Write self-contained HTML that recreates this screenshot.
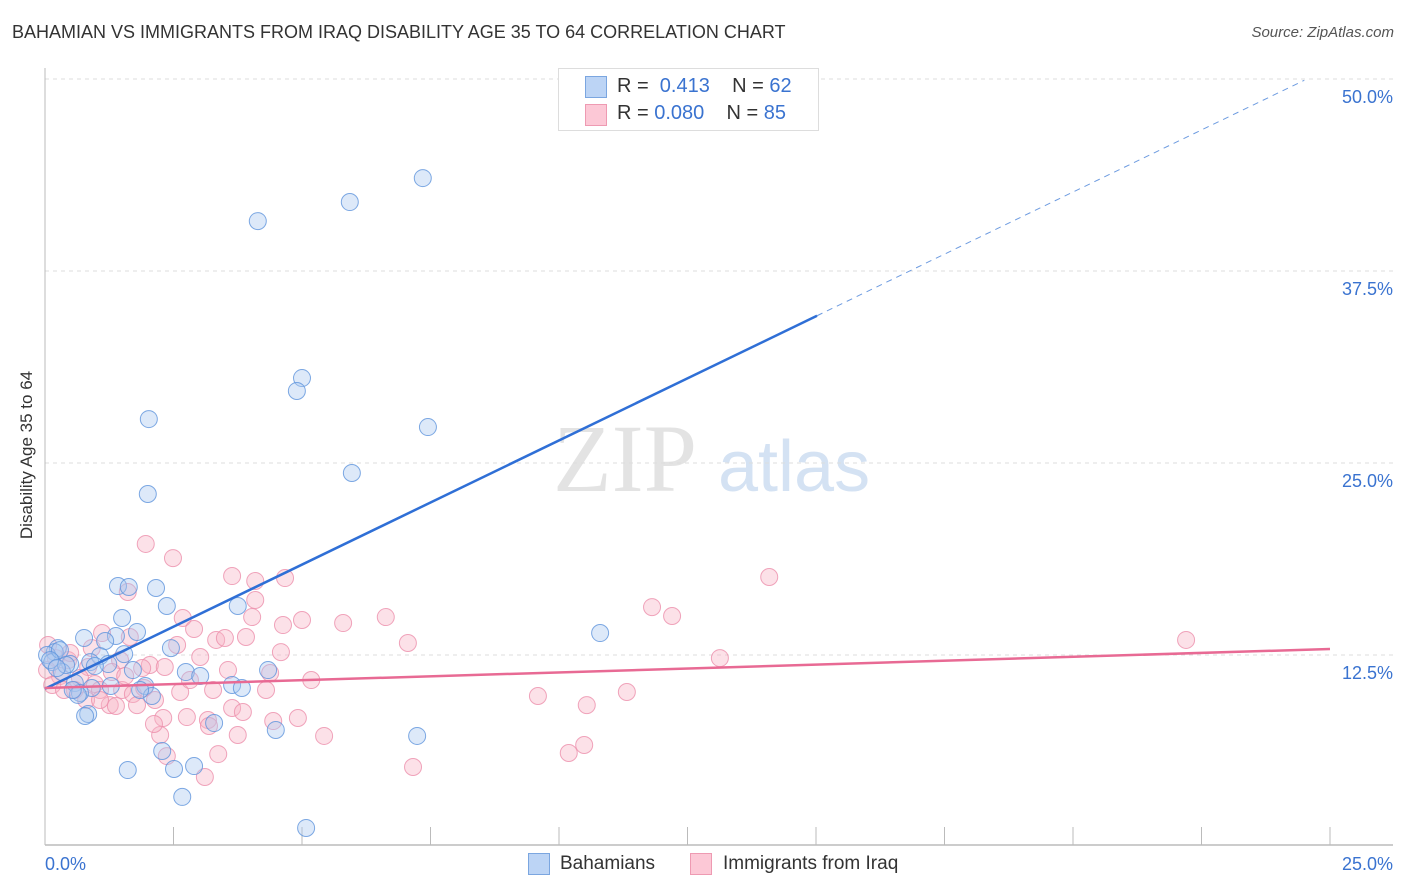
<!DOCTYPE html>
<html><head><meta charset="utf-8"><style>
body{margin:0;background:#fff;font-family:"Liberation Sans",sans-serif}
#wrap{position:relative;width:1406px;height:892px;overflow:hidden}
.t{position:absolute;white-space:nowrap}
</style></head><body>
<div id="wrap">
<div class="t" style="left:12px;top:22px;font-size:18px;color:#333">BAHAMIAN VS IMMIGRANTS FROM IRAQ DISABILITY AGE 35 TO 64 CORRELATION CHART</div>
<div class="t" style="right:12px;top:24px;font-size:15px;color:#555;font-style:italic">Source: ZipAtlas.com</div>
<div class="t" style="left:27px;top:455px;font-size:17px;color:#333;transform:translate(-50%,-50%) rotate(-90deg)">Disability Age 35 to 64</div>
<svg id="chart" width="1406" height="892" style="position:absolute;left:0;top:0">
<g>
<text x="553" y="491" font-family="Liberation Serif" font-size="96" fill="#d8d8d8" opacity="0.7">ZIP</text>
<text x="718" y="491" font-family="Liberation Sans" font-size="72" fill="#c3d6ee" opacity="0.7">atlas</text>
</g>
<g id="grid"></g><g id="axes"></g><g id="pts"></g><g id="trend"></g>
</svg>
<div style="position:absolute;left:558px;top:68px;width:259px;height:61px;border:1px solid #ddd;background:#fff;font-size:20px">
<div style="position:absolute;left:26px;top:7px;width:20px;height:20px;background:#bcd4f5;border:1px solid #7ba6e0"></div>
<div class="t" style="left:58px;top:6px;color:#333">R = &nbsp;<span style="color:#3a73d0">0.413</span>&nbsp;&nbsp;&nbsp; N = <span style="color:#3a73d0">62</span></div>
<div style="position:absolute;left:26px;top:35px;width:20px;height:20px;background:#fcc8d6;border:1px solid #ee9ab2"></div>
<div class="t" style="left:58px;top:33px;color:#333">R = <span style="color:#3a73d0">0.080</span>&nbsp;&nbsp;&nbsp; N = <span style="color:#3a73d0">85</span></div>
</div>
<div style="position:absolute;left:528px;top:852px;font-size:19px;color:#333">
<span style="position:absolute;left:0;top:1px;width:20px;height:20px;background:#bcd4f5;border:1px solid #7ba6e0"></span>
<span class="t" style="left:32px;top:1px">Bahamians</span>
<span style="position:absolute;left:162px;top:1px;width:20px;height:20px;background:#fcc8d6;border:1px solid #ee9ab2"></span>
<span class="t" style="left:195px;top:1px">Immigrants from Iraq</span>
</div>
</div>
<script>
const blueX=[7.35,5.93,4.14,5.00,4.90,2.02,7.45,5.97,2.00,1.42,1.63,2.16,2.37,3.75,1.50,1.79,10.80,0.76,1.38,1.17,2.45,1.54,1.07,0.25,0.19,0.04,0.14,0.49,0.88,1.23,1.71,2.74,3.02,4.34,0.33,0.58,0.91,1.28,3.64,3.83,1.95,2.08,0.68,0.64,0.84,0.78,3.29,4.49,7.24,2.28,2.90,1.61,2.51,2.67,5.08,0.29,0.41,0.10,0.23,0.97,1.85,0.54];
const blueY=[43.55,41.99,40.75,30.53,29.69,27.86,27.34,24.35,22.98,16.99,16.93,16.86,15.69,15.69,14.91,14.00,13.93,13.61,13.74,13.41,12.95,12.56,12.43,12.95,12.69,12.50,12.04,11.91,12.04,11.91,11.52,11.39,11.13,11.52,11.39,10.68,10.35,10.48,10.55,10.35,10.48,9.83,10.03,9.90,8.66,8.53,8.07,7.62,7.23,6.25,5.27,5.01,5.08,3.26,1.24,12.82,11.85,12.17,11.65,11.78,10.22,10.22];
const pinkX=[1.96,2.49,3.64,1.61,4.09,4.67,14.09,4.09,2.68,4.03,5.00,5.80,6.63,11.81,12.20,2.90,3.33,3.50,3.91,4.63,7.06,22.20,1.11,1.65,2.57,3.02,4.59,13.13,2.04,2.33,3.56,4.38,5.18,1.46,0.84,0.45,0.21,0.04,0.29,0.68,0.97,1.30,1.50,1.71,1.93,2.14,2.63,3.27,4.30,9.59,11.32,10.54,1.26,1.38,1.79,2.30,2.76,3.17,3.64,3.85,4.44,4.92,3.19,2.24,3.75,5.43,3.37,2.37,10.49,10.19,7.16,3.11,0.49,0.58,0.14,0.37,1.07,0.91,1.89,1.56,0.06,0.80,2.82,2.12,1.07];
const pinkY=[19.73,18.81,17.64,16.60,17.32,17.51,17.58,16.08,14.91,14.97,14.78,14.58,14.97,15.62,15.04,14.19,13.48,13.61,13.67,14.45,13.28,13.48,13.93,13.67,13.15,12.37,12.69,12.30,11.85,11.72,11.52,11.33,10.87,12.17,11.72,12.17,12.30,11.52,11.13,11.00,10.61,11.39,10.22,9.96,10.35,9.57,10.09,10.22,10.22,9.83,10.09,9.24,9.24,9.18,9.24,8.40,8.46,8.27,9.05,8.79,8.20,8.40,7.88,7.29,7.29,7.23,6.05,5.92,6.64,6.12,5.21,4.56,12.63,10.22,10.55,10.22,10.22,12.95,11.65,11.13,13.15,9.57,10.87,8.01,9.57];
const blueTrend=[10.3,1.617];   // intercept, slope
const blueTrendEnd=[15.02,24.5]; // solid end, dashed end (x %)
const pinkTrend=[10.35,0.1016];
const yTicks=[12.5,25.0,37.5,50.0];
const xTickVals=[2.5,5,7.5,10,12.5,15,17.5,20,22.5,25];
const xLabels=["0.0%","25.0%"];

const NS="http://www.w3.org/2000/svg";
const sx=v=>45+v*51.4, sy=v=>847-v*15.36;
function mk(tag,attrs,parent){const e=document.createElementNS(NS,tag);for(const k in attrs)e.setAttribute(k,attrs[k]);parent.appendChild(e);return e;}
const grid=document.getElementById('grid'),axes=document.getElementById('axes'),pts=document.getElementById('pts'),tr=document.getElementById('trend'),svg=document.getElementById('chart');
yTicks.forEach(v=>{
 const l=mk('line',{x1:45,x2:1393,y1:sy(v),y2:sy(v),stroke:'#ddd','stroke-dasharray':'4,4'},grid);
 
 
 const t=mk('text',{x:1393,y:sy(v)+24,'text-anchor':'end','font-size':18,fill:'#3a73d0','font-family':'Liberation Sans'},axes);
 t.textContent=v.toFixed(1)+'%';
 
 
});
let a=mk('line',{x1:45,x2:45,y1:68,y2:845,stroke:'#bbb'},axes);


a=mk('line',{x1:45,x2:1393,y1:845,y2:845,stroke:'#bbb','stroke-width':1.5},axes);


xTickVals.forEach(v=>{
 const l=mk('line',{x1:sx(v),x2:sx(v),y1:827,y2:845,stroke:'#bbb'},axes);
 
 
});
[[0,'start',45],[25,'end',1393]].forEach((d,i)=>{
 const t=mk('text',{x:d[2],y:870,'text-anchor':d[1],'font-size':18,fill:'#3a73d0','font-family':'Liberation Sans'},axes);
 t.textContent=xLabels[i];
 
 
});
function dots(X,Y,fill,stroke,name){
 X.forEach((x,i)=>{
  const c=mk('circle',{cx:sx(x),cy:sy(Y[i]),r:8.5,fill:fill,'fill-opacity':0.4,stroke:stroke,'stroke-opacity':0.8,'stroke-width':1},pts);
  
  
 });
}
dots(pinkX,pinkY,'#f7b3c6','#ec8fab','iraq-point');
dots(blueX,blueY,'#a9c8f0','#5e93dc','bahamian-point');
const by=x=>blueTrend[0]+blueTrend[1]*x;
let l=mk('line',{x1:sx(0),y1:sy(by(0)),x2:sx(blueTrendEnd[0]),y2:sy(by(blueTrendEnd[0])),stroke:'#2f6fd6','stroke-width':2.5},tr);


l=mk('line',{x1:sx(blueTrendEnd[0]),y1:sy(by(blueTrendEnd[0])),x2:sx(blueTrendEnd[1]),y2:sy(by(blueTrendEnd[1])),stroke:'#6d9be0','stroke-width':1,'stroke-dasharray':'6,5'},tr);


const py=x=>pinkTrend[0]+pinkTrend[1]*x;
l=mk('line',{x1:sx(0),y1:sy(py(0)),x2:sx(25),y2:sy(py(25)),stroke:'#e86a94','stroke-width':2.5},tr);


</script>
</body></html>
